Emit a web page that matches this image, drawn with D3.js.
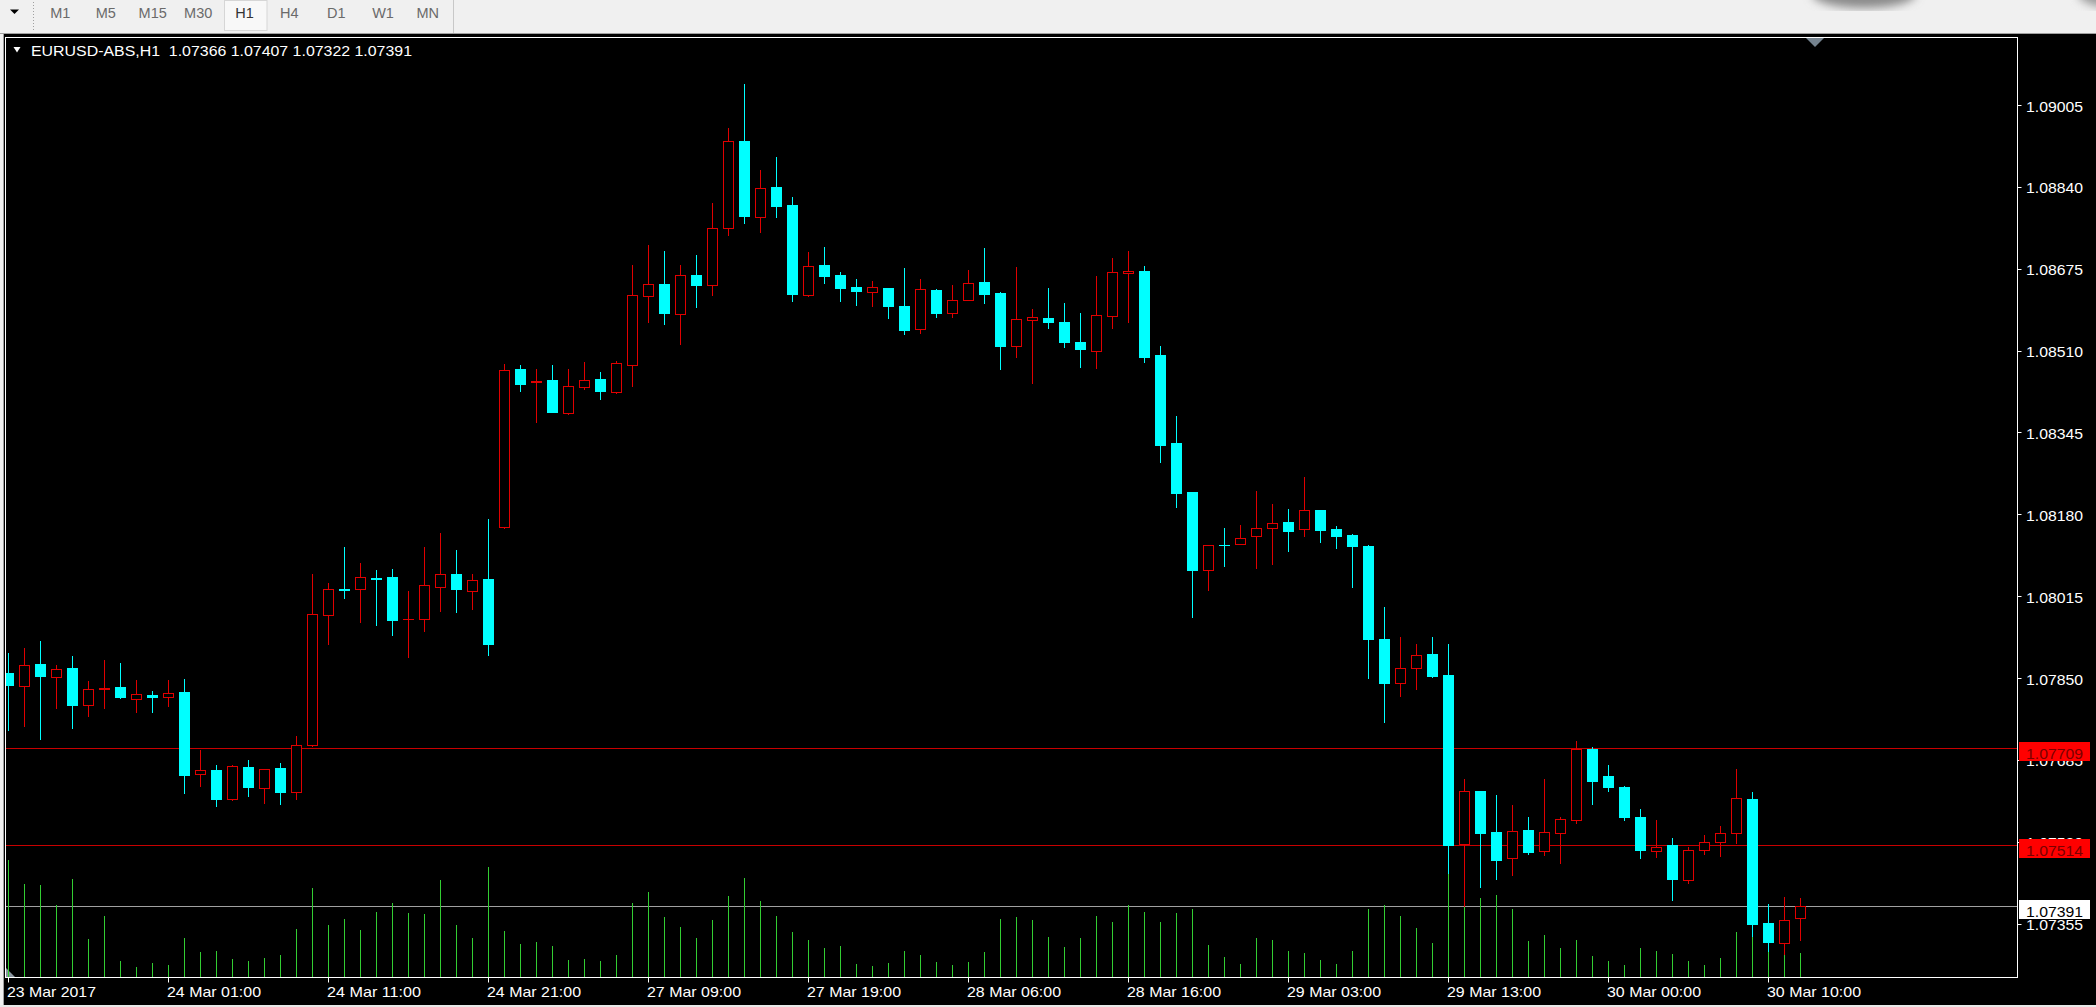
<!DOCTYPE html>
<html><head><meta charset="utf-8">
<script src="https://cdn.jsdelivr.net/npm/d3@7/dist/d3.min.js"></script>
<style>
html,body{margin:0;padding:0;background:#f0f0f0;overflow:hidden}
svg{display:block}
text{font-family:"Liberation Sans",Arial,sans-serif}
</style></head><body>
<svg id="c" width="2096" height="1007"></svg>
<script>
// ---------------- data ----------------
const symbolTitle = "EURUSD-ABS,H1";
const timeframes = ["M1","M5","M15","M30","H1","H4","D1","W1","MN"];
const activeTimeframe = "H1";
const timeLabels = ["23 Mar 2017","24 Mar 01:00","24 Mar 11:00","24 Mar 21:00","27 Mar 09:00","27 Mar 19:00","28 Mar 06:00","28 Mar 16:00","29 Mar 03:00","29 Mar 13:00","30 Mar 00:00","30 Mar 10:00"];
const timeLabelBars = [0,10,20,30,40,50,60,70,80,90,100,110];
const priceTicks = [1.09005,1.08840,1.08675,1.08510,1.08345,1.08180,1.08015,1.07850,1.07685,1.07520,1.07355];
const levelLines = [1.07709,1.07514];
const bidPrice = 1.07391;

const opens = [1.07860,1.07835,1.07878,1.07853,1.07870,1.07796,1.07829,1.07832,1.07807,1.07816,1.07811,1.07821,1.07656,1.07665,1.07606,1.07671,1.07629,1.07669,1.07621,
1.07715,1.07978,1.08029,1.08029,1.08051,1.08054,1.07969,1.07970,1.08033,1.08060,1.08025,1.08050,1.08154,1.08473,1.08447,1.08451,1.08385,1.08437,1.08452,1.08427,
1.08482,1.08620,1.08644,1.08584,1.08663,1.08643,1.08757,1.08932,1.08780,1.08839,1.08803,1.08623,1.08682,1.08663,1.08638,1.08629,1.08636,1.08600,
1.08553,1.08632,1.08586,1.08611,1.08648,1.08626,1.08520,1.08572,1.08576,1.08567,1.08528,1.08510,1.08580,1.08667,1.08670,1.08501,1.08323,1.08226,1.08068,
1.08119,1.08120,1.08136,1.08152,1.08164,1.08150,1.08189,1.08150,1.08139,1.08116,1.07929,1.07841,1.07870,1.07898,1.07856,1.07515,1.07623,1.07540,1.07487,
1.07544,1.07502,1.07538,1.07565,1.07707,1.07653,1.07631,1.07570,1.07502,1.07514,1.07444,1.07504,1.07520,1.07537,1.07606,1.07356,1.07317,1.07366];
const highs = [1.07900,1.07910,1.07925,1.07876,1.07895,1.07844,1.07887,1.07881,1.07846,1.07824,1.07846,1.07848,1.07706,1.07675,1.07674,1.07685,1.07667,1.07678,1.07733,
1.08060,1.08042,1.08114,1.08081,1.08068,1.08070,1.08025,1.08115,1.08142,1.08109,1.08060,1.08171,1.08484,1.08482,1.08473,1.08482,1.08473,1.08487,1.08466,1.08490,
1.08682,1.08723,1.08710,1.08682,1.08703,1.08808,1.08958,1.09048,1.08874,1.08900,1.08820,1.08709,1.08718,1.08668,1.08654,1.08651,1.08636,1.08677,
1.08654,1.08634,1.08642,1.08672,1.08716,1.08629,1.08678,1.08593,1.08636,1.08606,1.08585,1.08661,1.08697,1.08710,1.08680,1.08520,1.08378,1.08226,1.08119,
1.08152,1.08158,1.08227,1.08201,1.08191,1.08255,1.08189,1.08156,1.08141,1.08119,1.07993,1.07932,1.07918,1.07933,1.07919,1.07646,1.07623,1.07615,1.07594,
1.07571,1.07647,1.07571,1.07724,1.07712,1.07675,1.07633,1.07586,1.07564,1.07527,1.07510,1.07534,1.07552,1.07667,1.07620,1.07395,1.07409,1.07407];
const lows = [1.07745,1.07754,1.07727,1.07789,1.07750,1.07774,1.07790,1.07810,1.07782,1.07782,1.07794,1.07619,1.07633,1.07593,1.07604,1.07612,1.07599,1.07597,1.07606,
1.07713,1.07918,1.08011,1.07963,1.07958,1.07936,1.07893,1.07945,1.07986,1.07983,1.07989,1.07896,1.08152,1.08429,1.08367,1.08387,1.08383,1.08433,1.08413,1.08424,
1.08439,1.08567,1.08563,1.08523,1.08597,1.08623,1.08742,1.08768,1.08750,1.08779,1.08609,1.08621,1.08646,1.08610,1.08601,1.08599,1.08575,1.08543,
1.08545,1.08578,1.08578,1.08611,1.08606,1.08472,1.08497,1.08444,1.08555,1.08517,1.08477,1.08475,1.08555,1.08567,1.08488,1.08286,1.08194,1.07974,1.08027,
1.08076,1.08120,1.08071,1.08079,1.08107,1.08136,1.08125,1.08113,1.08034,1.07851,1.07762,1.07813,1.07829,1.07853,1.07457,1.07390,1.07428,1.07446,1.07453,
1.07495,1.07493,1.07477,1.07557,1.07596,1.07623,1.07563,1.07488,1.07489,1.07403,1.07438,1.07495,1.07491,1.07517,1.07330,1.07300,1.07294,1.07322];
const closes = [1.07836,1.07876,1.07855,1.07868,1.07796,1.07829,1.07830,1.07811,1.07818,1.07811,1.07820,1.07655,1.07664,1.07606,1.07672,1.07631,1.07667,1.07621,1.07715,
1.07980,1.08029,1.08027,1.08053,1.08050,1.07968,1.07970,1.08038,1.08060,1.08029,1.08047,1.07919,1.08470,1.08443,1.08448,1.08387,1.08438,1.08450,1.08428,1.08485,
1.08622,1.08645,1.08585,1.08663,1.08642,1.08757,1.08932,1.08782,1.08837,1.08802,1.08625,1.08681,1.08661,1.08637,1.08631,1.08638,1.08599,1.08552,
1.08634,1.08586,1.08613,1.08647,1.08625,1.08520,1.08574,1.08578,1.08567,1.08527,1.08513,1.08581,1.08668,1.08671,1.08498,1.08320,1.08224,1.08068,1.08119,
1.08118,1.08133,1.08152,1.08162,1.08147,1.08189,1.08149,1.08137,1.08116,1.07929,1.07841,1.07870,1.07897,1.07855,1.07513,1.07623,1.07537,1.07484,1.07542,
1.07500,1.07539,1.07567,1.07707,1.07643,1.07631,1.07571,1.07504,1.07510,1.07445,1.07504,1.07520,1.07537,1.07608,1.07354,1.07319,1.07362,1.07391];
const volumes = [2938,2330,2313,1813,2463,963,1538,420,270,370,313,988,645,663,463,420,488,570,1205,
2238,1305,1458,1185,1640,1863,1610,1590,2440,1305,983,2775,1155,830,880,780,445,475,415,558,
1868,2140,1505,1260,988,1433,2040,2488,1910,1550,1145,943,740,785,338,293,365,668,
558,383,323,383,630,1458,1508,1435,1025,768,990,1533,1398,1818,1633,1398,1608,1705,818,
503,338,980,933,658,613,430,338,658,1713,1805,1538,1238,860,2600,2100,1988,2063,1720,
920,1063,745,938,538,413,313,745,670,588,420,313,495,1145,1375,1000,563,620];

// ---------------- layout ----------------
const W = 2096, H = 1007;
const plot = {left:5.5, top:37.5, right:2017.5, bottom:977.5};
const svg = d3.select("#c");

const x = d3.scaleLinear().domain([0, 112]).range([8, 8 + 16*112]);
const y = d3.scaleLinear().domain([1.07355, 1.09005]).range([923.7, 105]);
const yv = d3.scaleLinear().domain([0, 4000]).range([plot.bottom, plot.bottom - 160]);

const RED = "#e00000", CYAN = "#00ffff", VOL = "#32cd32";

// window chrome
svg.append("rect").attr("x",0).attr("y",0).attr("width",W).attr("height",H).attr("fill","#f0f0f0");
svg.append("rect").attr("x",3).attr("y",34).attr("width",W-3).attr("height",971).attr("fill","#000");
svg.append("line").attr("x1",0).attr("x2",W).attr("y1",33.5).attr("y2",33.5).attr("stroke","#a0a0a0");
svg.append("line").attr("x1",3.5).attr("x2",3.5).attr("y1",34).attr("y2",1005).attr("stroke","#a0a0a0");

// toolbar
const defs = svg.append("defs");
defs.append("filter").attr("id","blur").append("feGaussianBlur").attr("stdDeviation",5);
defs.append("clipPath").attr("id","clip").append("rect")
  .attr("x",plot.left+0.5).attr("y",plot.top+0.5).attr("width",plot.right-plot.left-1).attr("height",plot.bottom-plot.top-1);
svg.append("ellipse").attr("cx",1864).attr("cy",-6).attr("rx",52).attr("ry",14).attr("fill","#8a8a8a").attr("filter","url(#blur)");
svg.append("ellipse").attr("cx",2118).attr("cy",-6).attr("rx",40).attr("ry",14).attr("fill","#9a9a9a").attr("filter","url(#blur)");
svg.append("path").attr("d","M10,9.5 L19,9.5 L14.5,14 Z").attr("fill","#000");
for (let yy=2; yy<31; yy+=3) svg.append("rect").attr("x",33).attr("y",yy).attr("width",1).attr("height",1).attr("fill","#a0a0a0");
const tfX = [60.3,105.8,152.7,198.2,244.6,289.3,336.2,383,427.7];
svg.append("rect").attr("x",224.5).attr("y",0.5).attr("width",42.5).attr("height",30).attr("fill","#f8f8f8").attr("stroke","#d6d6d6");
svg.append("line").attr("x1",453.5).attr("x2",453.5).attr("y1",0).attr("y2",33).attr("stroke","#c8c8c8");
svg.selectAll(".tf").data(timeframes).join("text")
  .attr("x",(d,i)=>tfX[i]).attr("y",17.5).attr("text-anchor","middle")
  .attr("font-size",14.5).attr("fill",d=>d===activeTimeframe?"#333":"#6a6a6a").text(d=>d);

// title
svg.append("path").attr("d","M13.5,47 L20.5,47 L17,52.5 Z").attr("fill","#fff");
svg.append("text").attr("x",31).attr("y",56).attr("font-size",14.5).attr("fill","#fff")
  .attr("textLength",381).attr("lengthAdjust","spacingAndGlyphs").style("white-space","pre")
  .text(symbolTitle + "  " + [opens[112],highs[112],lows[112],closes[112]].map(v=>v.toFixed(5)).join(" "));

// markers
svg.append("path").attr("d","M1806,38 L1824,38 L1815,47 Z").attr("fill","#75838f");
svg.append("path").attr("d","M6,968 L6,977 L15,977 Z").attr("fill","#8a95a0");

const data = opens.map((o,i)=>({i, o, h:highs[i], l:lows[i], c:closes[i], v:volumes[i]}));
const gp = svg.append("g").attr("clip-path","url(#clip)");

// level lines (behind)
gp.selectAll(".lvl").data(levelLines).join("line")
  .attr("x1",plot.left).attr("x2",plot.right).attr("y1",d=>Math.round(y(d))+0.5).attr("y2",d=>Math.round(y(d))+0.5)
  .attr("stroke","#c80000");
gp.append("line").attr("x1",plot.left).attr("x2",plot.right)
  .attr("y1",Math.round(y(bidPrice))+0.5).attr("y2",Math.round(y(bidPrice))+0.5).attr("stroke","#a0a0a0");

// volumes
gp.selectAll(".vol").data(data).join("line")
  .attr("x1",d=>x(d.i)+0.5).attr("x2",d=>x(d.i)+0.5)
  .attr("y1",plot.bottom).attr("y2",d=>Math.round(yv(d.v))).attr("stroke",VOL);

// wicks
gp.selectAll(".wick").data(data).join("line")
  .attr("x1",d=>x(d.i)+0.5).attr("x2",d=>x(d.i)+0.5)
  .attr("y1",d=>Math.round(y(d.h))).attr("y2",d=>Math.round(y(d.l))+1)
  .attr("stroke",d=>d.c>=d.o?RED:CYAN);

// bodies
data.forEach(d=>{
  const cx = x(d.i);
  const yt = Math.round(y(Math.max(d.o,d.c)));
  const yb = Math.round(y(Math.min(d.o,d.c)));
  const bull = d.c>=d.o;
  const hgt = yb-yt;
  if (!bull) {
    gp.append("rect").attr("x",cx-5).attr("y",yt).attr("width",11).attr("height",Math.max(1,hgt+1)).attr("fill",CYAN);
  } else if (hgt < 2) {
    gp.append("rect").attr("x",cx-5).attr("y",yt).attr("width",11).attr("height",Math.max(1,hgt+1)).attr("fill",RED);
  } else {
    gp.append("rect").attr("x",cx-4.5).attr("y",yt+0.5).attr("width",10).attr("height",hgt)
      .attr("fill","#000").attr("stroke",RED);
  }
});

// frame
svg.append("rect").attr("x",plot.left).attr("y",plot.top).attr("width",plot.right-plot.left).attr("height",plot.bottom-plot.top)
  .attr("fill","none").attr("stroke","#fff");

// price axis
svg.selectAll(".ptick").data(priceTicks).join("line")
  .attr("x1",plot.right).attr("x2",plot.right+4).attr("y1",d=>Math.round(y(d))+0.5).attr("y2",d=>Math.round(y(d))+0.5).attr("stroke","#fff");
svg.selectAll(".plab").data(priceTicks).join("text")
  .attr("x",2026).attr("y",d=>y(d)+6.5).attr("font-size",15.5).attr("fill","#fff")
  .attr("textLength",57).attr("lengthAdjust","spacingAndGlyphs").text(d=>d.toFixed(5));

// level labels
const boxes = levelLines.map(v=>({v, bg:"#ff0000", fg:"#7a0000"})).concat([{v:bidPrice, bg:"#ffffff", fg:"#000"}]);
boxes.forEach(b=>{
  const yy = Math.round(y(b.v));
  svg.append("rect").attr("x",2019).attr("y",yy-6).attr("width",71).attr("height",19).attr("fill",b.bg);
  svg.append("text").attr("x",2026).attr("y",yy+10.5).attr("font-size",15.5).attr("fill",b.fg)
    .attr("textLength",57).attr("lengthAdjust","spacingAndGlyphs").text(b.v.toFixed(5));
});

// time axis
svg.selectAll(".ttick").data(timeLabelBars).join("line")
  .attr("x1",d=>x(d)+0.5).attr("x2",d=>x(d)+0.5).attr("y1",plot.bottom).attr("y2",plot.bottom+5).attr("stroke","#fff");
svg.selectAll(".tlab").data(timeLabels).join("text")
  .attr("x",(d,i)=>x(timeLabelBars[i])-1).attr("y",997).attr("font-size",15).attr("fill","#fff")
  .attr("textLength",(d,i)=>i===0?89:94).attr("lengthAdjust","spacingAndGlyphs").text(d=>d);

// bottom window edge
svg.append("rect").attr("x",0).attr("y",1005).attr("width",W).attr("height",2).attr("fill","#e8e8e8");
</script>
</body></html>
